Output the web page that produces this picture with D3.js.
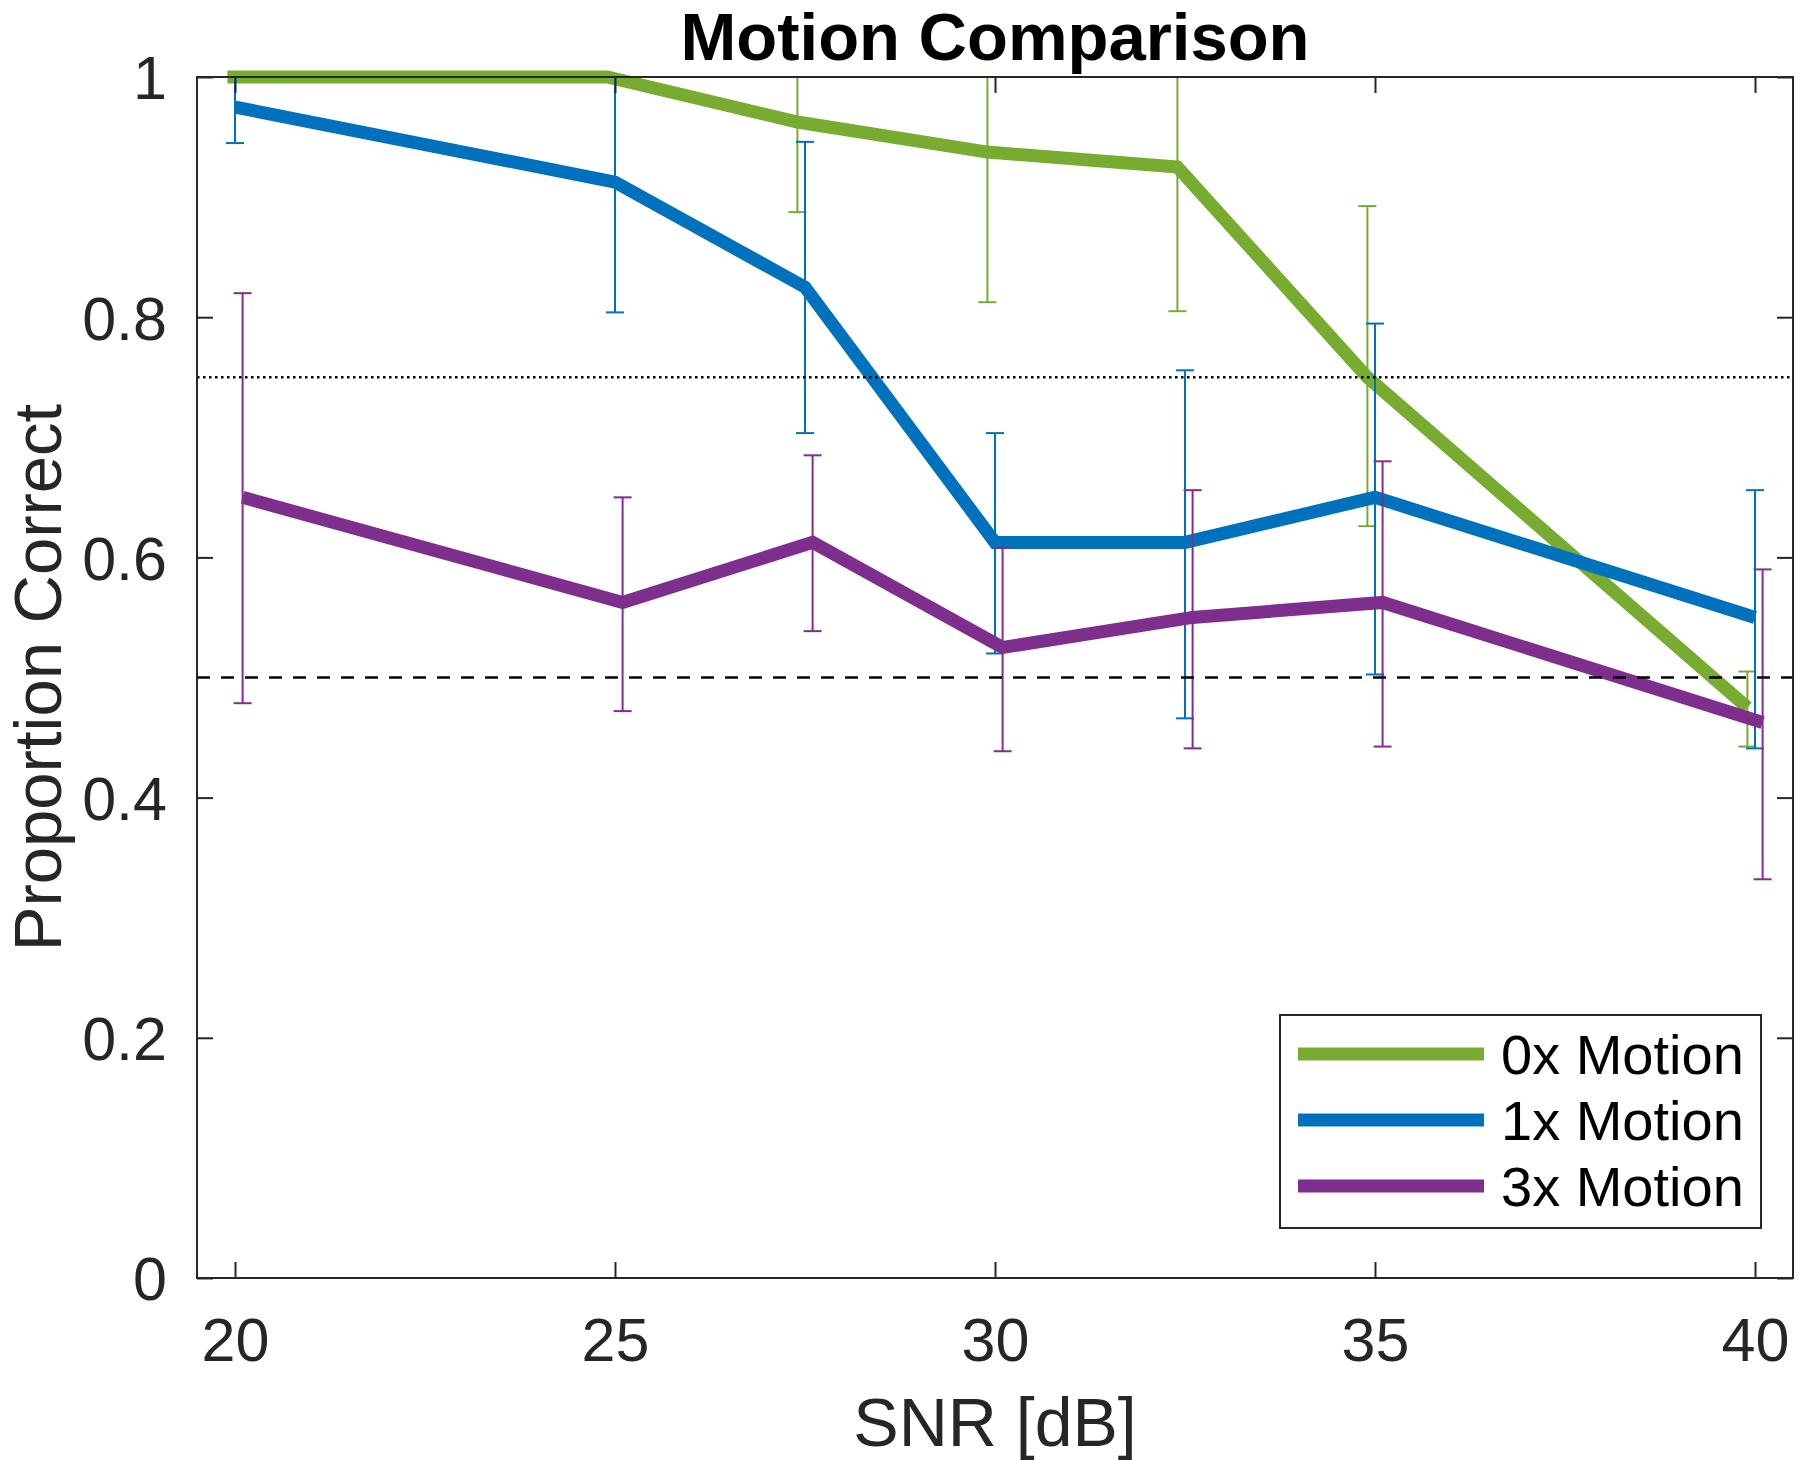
<!DOCTYPE html>
<html>
<head>
<meta charset="utf-8">
<script src="https://cdn.jsdelivr.net/npm/d3@7"></script>
<style>
  html, body { margin: 0; padding: 0; background: #fff; }
  svg { display: block; }
  text { font-family: "Liberation Sans", Arial, Helvetica, sans-serif; }
</style>
</head>
<body>
<div id="chart"></div>
<script>
// ---------------- data ----------------
const snr = [20, 25, 27.5, 30, 32.5, 35, 40];

const motion0    = [1.0, 1.0, 0.9625, 0.9375, 0.925, 0.75, 0.475];
const motion0Lo  = [1.0, 1.0, 0.8875, 0.8125, 0.805, 0.626, 0.4425];
const motion0Hi  = [1.0, 1.0, 1.0, 1.0, 1.0, 0.8925, 0.505];

const motion1    = [0.975, 0.9125, 0.825, 0.6125, 0.6125, 0.65, 0.55];
const motion1Lo  = [0.945, 0.804, 0.7035, 0.52, 0.466, 0.5025, 0.441];
const motion1Hi  = [1.0, 1.0, 0.946, 0.7035, 0.7558, 0.7947, 0.656];

const motion3    = [0.65, 0.5625, 0.6125, 0.525, 0.55, 0.5625, 0.4625];
const motion3Lo  = [0.4786, 0.472, 0.5386, 0.4386, 0.441, 0.4425, 0.332];
const motion3Hi  = [0.82, 0.65, 0.685, 0.608, 0.656, 0.68, 0.59];

const seriesNames = ["0x Motion", "1x Motion", "3x Motion"];
const seriesShift = [-0.1, 0, 0.1];   // small x-offset (dB) used in the original to separate error bars
const seriesColors = ["#77AC30", "#0072BD", "#7E2F8E"];

const xTicks = [20, 25, 30, 35, 40];
const yTicks = [0, 0.2, 0.4, 0.6, 0.8, 1];
const chanceLevel = 0.5;
const thresholdLevel = 0.75;

const titleText = "Motion Comparison";
const xLabelText = "SNR [dB]";
const yLabelText = "Proportion Correct";

// ---------------- layout ----------------
const W = 1800, H = 1460;
const pL = 197, pR = 1793, pT = 77, pB = 1278;
const axisColor = "#262626";

const series = [
  { name: seriesNames[0], mean: motion0, lo: motion0Lo, hi: motion0Hi, shift: seriesShift[0], color: seriesColors[0] },
  { name: seriesNames[1], mean: motion1, lo: motion1Lo, hi: motion1Hi, shift: seriesShift[1], color: seriesColors[1] },
  { name: seriesNames[2], mean: motion3, lo: motion3Lo, hi: motion3Hi, shift: seriesShift[2], color: seriesColors[2] }
];

const x = d3.scaleLinear().domain([19.5, 40.5]).range([pL, pR]);
const y = d3.scaleLinear().domain([0, 1]).range([pB, pT]);

const svg = d3.select("#chart").append("svg")
  .attr("width", W).attr("height", H);

svg.append("rect").attr("width", W).attr("height", H).attr("fill", "#fff");

// ---------------- data marks ----------------
const lineGen = d3.line().x(d => x(d[0])).y(d => y(d[1]));
const capHalf = 9;

series.forEach(s => {
  const g = svg.append("g");
  const pts = snr.map((v, i) => [v + s.shift, s.mean[i]]);
  g.append("path")
    .attr("d", lineGen(pts))
    .attr("fill", "none")
    .attr("stroke", s.color)
    .attr("stroke-width", 13)
    .attr("stroke-linejoin", "miter")
    .attr("stroke-linecap", "butt");

  snr.forEach((v, i) => {
    const cx = x(v + s.shift);
    const y1 = y(s.lo[i]), y2 = y(s.hi[i]);
    g.append("line").attr("x1", cx).attr("x2", cx).attr("y1", y1).attr("y2", y2)
      .attr("stroke", s.color).attr("stroke-width", 2);
    [y1, y2].forEach(yy => {
      g.append("line").attr("x1", cx - capHalf).attr("x2", cx + capHalf)
        .attr("y1", yy).attr("y2", yy)
        .attr("stroke", s.color).attr("stroke-width", 2);
    });
  });
});

// ---------------- reference lines ----------------
svg.append("line")
  .attr("x1", x.range()[0]).attr("x2", x.range()[1])
  .attr("y1", y(thresholdLevel)).attr("y2", y(thresholdLevel))
  .attr("stroke", "#000").attr("stroke-width", 2.5)
  .attr("stroke-dasharray", "2.5,3.5");

svg.append("line")
  .attr("x1", x.range()[0]).attr("x2", x.range()[1])
  .attr("y1", y(chanceLevel)).attr("y2", y(chanceLevel))
  .attr("stroke", "#000").attr("stroke-width", 2.5)
  .attr("stroke-dasharray", "13,11");

// ---------------- axes ----------------
const tickLen = 16;
const fmtY = d => (d === 0 ? "0" : d === 1 ? "1" : d.toFixed(1));

const gx = svg.append("g").attr("transform", `translate(0,${pB})`)
  .call(d3.axisBottom(x).tickValues(xTicks).tickSizeInner(-tickLen).tickSizeOuter(0).tickPadding(0));
const gxTop = svg.append("g").attr("transform", `translate(0,${pT})`)
  .call(d3.axisTop(x).tickValues(xTicks).tickSizeInner(-tickLen).tickSizeOuter(0).tickFormat(""));
const gy = svg.append("g").attr("transform", `translate(${pL},0)`)
  .call(d3.axisLeft(y).tickValues(yTicks).tickSizeInner(-tickLen).tickSizeOuter(0).tickPadding(30).tickFormat(fmtY));
const gyRight = svg.append("g").attr("transform", `translate(${pR},0)`)
  .call(d3.axisRight(y).tickValues(yTicks).tickSizeInner(-tickLen).tickSizeOuter(0).tickFormat(""));

[gx, gxTop, gy, gyRight].forEach(g => {
  g.select(".domain").remove();
  g.selectAll(".tick line").attr("stroke", axisColor).attr("stroke-width", 2);
});

gx.selectAll(".tick text")
  .attr("y", 83).attr("dy", null)
  .attr("fill", axisColor)
  .style("font-size", "61px");

gy.selectAll(".tick text")
  .attr("dy", "0.36em")
  .attr("fill", axisColor)
  .style("font-size", "61px");

// axes box
svg.append("rect")
  .attr("x", pL).attr("y", pT)
  .attr("width", pR - pL).attr("height", pB - pT)
  .attr("fill", "none").attr("stroke", axisColor).attr("stroke-width", 2);

// ---------------- labels ----------------
svg.append("text")
  .attr("x", (pL + pR) / 2).attr("y", 60)
  .attr("text-anchor", "middle")
  .attr("fill", "#000")
  .style("font-size", "67px").style("font-weight", "bold")
  .text(titleText);

svg.append("text")
  .attr("x", (pL + pR) / 2).attr("y", 1446)
  .attr("text-anchor", "middle")
  .attr("fill", axisColor)
  .style("font-size", "68px")
  .text(xLabelText);

svg.append("text")
  .attr("transform", `translate(61,${(pT + pB) / 2}) rotate(-90)`)
  .attr("text-anchor", "middle")
  .attr("fill", axisColor)
  .style("font-size", "67px")
  .text(yLabelText);

// ---------------- legend ----------------
const lg = svg.append("g");
lg.append("rect")
  .attr("x", 1280).attr("y", 1015).attr("width", 481).attr("height", 213)
  .attr("fill", "#fff").attr("stroke", axisColor).attr("stroke-width", 2);

series.forEach((s, i) => {
  const ly = 1054 + i * 66;
  lg.append("line")
    .attr("x1", 1298).attr("x2", 1484).attr("y1", ly).attr("y2", ly)
    .attr("stroke", s.color).attr("stroke-width", 13);
  lg.append("text")
    .attr("x", 1501).attr("y", ly + 20)
    .attr("fill", "#000")
    .style("font-size", "56px")
    .text(s.name);
});
</script>
</body>
</html>
